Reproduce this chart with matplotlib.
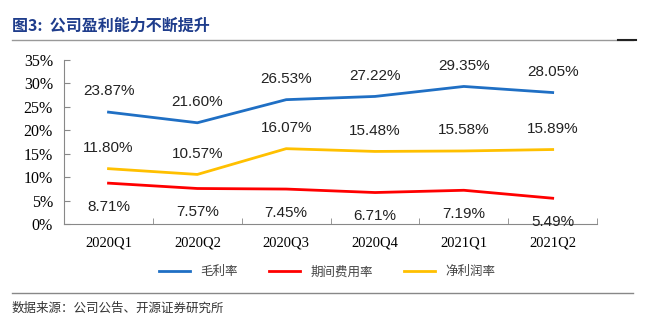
import matplotlib
matplotlib.use("Agg")
import matplotlib.pyplot as plt
import numpy as np
from matplotlib.lines import Line2D

quarters = ["2020Q1", "2020Q2", "2020Q3", "2020Q4", "2021Q1", "2021Q2"]
gross_margin = [23.87, 21.60, 26.53, 27.22, 29.35, 28.05]
expense_rate = [8.71, 7.57, 7.45, 6.71, 7.19, 5.49]
net_margin = [11.80, 10.57, 16.07, 15.48, 15.58, 15.89]
y_ticks = [0, 5, 10, 15, 20, 25, 30, 35]

cjk = ["Noto Sans CJK SC", "DejaVu Sans"]
blue, red, yellow = "#1F6FC4", "#FF0000", "#FFC000"

fig = plt.figure(figsize=(6.54, 3.26), dpi=100)
ax = fig.add_axes([0.098, 0.313, 0.815, 0.503])

x = np.arange(len(quarters))
series = [
    (gross_margin, blue, "毛利率", 15),
    (expense_rate, red, "期间费用率", -17),
    (net_margin, yellow, "净利润率", 15),
]
for vals, col, name, dy in series:
    ax.plot(x, vals, color=col, lw=2, label=name)
    for xi, v in zip(x, vals):
        ax.annotate(f"{v:.2f}%", (xi, v), xytext=(0, dy), textcoords="offset points",
                    ha="center", va="center", fontsize=11, color="#222222",
                    family=["Liberation Sans", "DejaVu Sans"])

ax.set_xlim(-0.5, len(quarters) - 0.5)
ax.set_ylim(0, 35)
ax.set_yticks(y_ticks)
ax.set_yticklabels([f"{t}%" for t in y_ticks], family="Liberation Serif", fontsize=11.5)
ax.set_xticks(x)
ax.set_xticklabels(quarters, family="Liberation Serif", fontsize=10.5)
ax.set_xticks(np.arange(len(quarters) + 1) - 0.5, minor=True)
ax.tick_params(axis="x", which="major", length=0, pad=9)
ax.tick_params(axis="x", which="minor", direction="in", length=4, color="#888888")
ax.tick_params(axis="y", direction="in", length=4, color="#888888", pad=8)
for s in ["top", "right"]:
    ax.spines[s].set_visible(False)
for s in ["left", "bottom"]:
    ax.spines[s].set_color("#888888")

handles = [Line2D([0], [0], color=c, lw=2) for _, c, _, _ in series]
fig.legend(handles, [n for _, _, n, _ in series], loc="center", bbox_to_anchor=(0.5, 0.166),
           ncol=3, frameon=False, prop={"family": cjk, "size": 9}, handlelength=2.5,
           columnspacing=2.5, labelcolor="#444444")

# title and rules
fig.text(0.018, 0.923, "图3:  公司盈利能力不断提升", family=cjk, fontsize=11.5,
         fontweight="bold", color="#1F3D8C", va="center")
fig.add_artist(Line2D([0.018, 0.968], [0.877, 0.877], color="#999999", lw=1))
fig.add_artist(Line2D([0.945, 0.972], [0.877, 0.877], color="#222222", lw=1.5))
fig.add_artist(Line2D([0.018, 0.968], [0.101, 0.101], color="#888888", lw=1))
fig.text(0.018, 0.055, "数据来源：公司公告、开源证券研究所", family=cjk, fontsize=9,
         color="#333333", va="center")

fig.savefig("out.png", dpi=100)
